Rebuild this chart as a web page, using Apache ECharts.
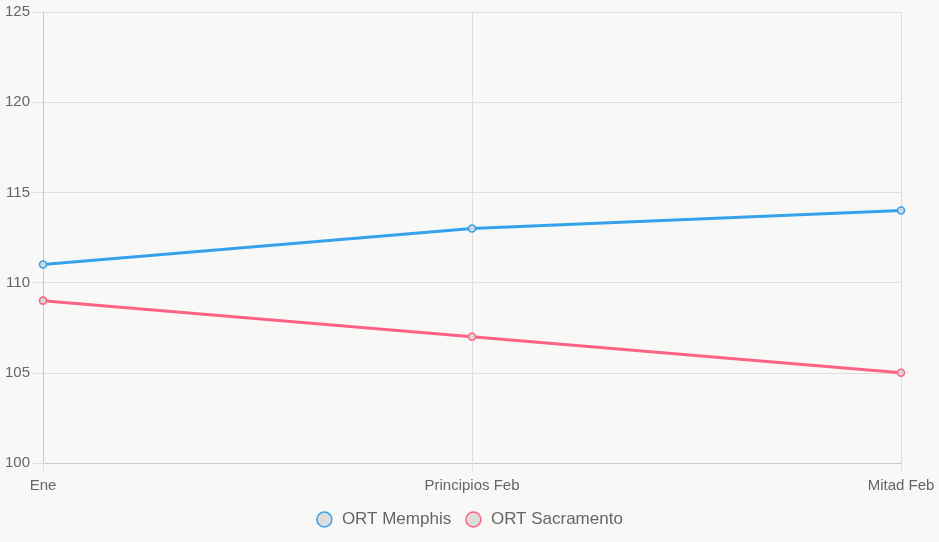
<!DOCTYPE html>
<html>
<head>
<meta charset="utf-8">
<script src="https://cdn.jsdelivr.net/npm/echarts@6/dist/echarts.min.js"></script>
<style>
  html, body { margin: 0; padding: 0; background: #f8f8f6; }
  #chart { width: 939px; height: 542px; }
</style>
</head>
<body>
<div id="chart"></div>
<script>
const categories = ["Ene", "Principios Feb", "Mitad Feb"];
const memphis = [111, 113, 114];
const sacramento = [109, 107, 105];

const chart = echarts.init(document.getElementById("chart"));
const font = "'Liberation Sans', Arial, sans-serif";

function makeSeries(name, data, color) {
  return {
    name: name,
    type: "line",
    data: data,
    symbol: "circle",
    symbolSize: 7,
    lineStyle: { color: color, width: 3 },
    itemStyle: { color: "#d8d8d8", borderColor: color, borderWidth: 1.6 },
    emphasis: { disabled: true }
  };
}

chart.setOption({
  backgroundColor: "#f8f8f6",
  animation: false,
  textStyle: { fontFamily: font },
  grid: { left: 43, right: 38, top: 12, bottom: 79 },
  legend: {
    bottom: 9,
    left: "center",
    icon: "circle",
    itemWidth: 15,
    itemHeight: 15,
    itemGap: 14,
    textStyle: { color: "#666", fontSize: 17, fontFamily: font, padding: [0, 0, 0, 5] },
    data: [
      { name: "ORT Memphis", itemStyle: { color: "#dcdcdc", borderColor: "#36a2eb", borderWidth: 1.5 } },
      { name: "ORT Sacramento", itemStyle: { color: "#dcdcdc", borderColor: "#ff6384", borderWidth: 1.5 } }
    ]
  },
  xAxis: {
    type: "category",
    data: categories,
    boundaryGap: false,
    axisLine: { lineStyle: { color: "#c8c8c8" } },
    axisTick: { show: true, length: 8, lineStyle: { color: "#dedede" } },
    splitLine: { show: true, lineStyle: { color: "#dedede" } },
    axisLabel: { color: "#666", fontSize: 15, margin: 15, fontFamily: font, interval: 0 }
  },
  yAxis: {
    type: "value",
    min: 100,
    max: 125,
    interval: 5,
    axisLine: { show: true, lineStyle: { color: "#c8c8c8" } },
    axisTick: { show: true, length: 10, lineStyle: { color: "#dedede" } },
    splitLine: { lineStyle: { color: "#dedede" } },
    axisLabel: { color: "#666", fontSize: 15, margin: 13, fontFamily: font }
  },
  series: [
    makeSeries("ORT Memphis", memphis, "#36a2eb"),
    makeSeries("ORT Sacramento", sacramento, "#ff6384")
  ]
});
</script>
</body>
</html>
